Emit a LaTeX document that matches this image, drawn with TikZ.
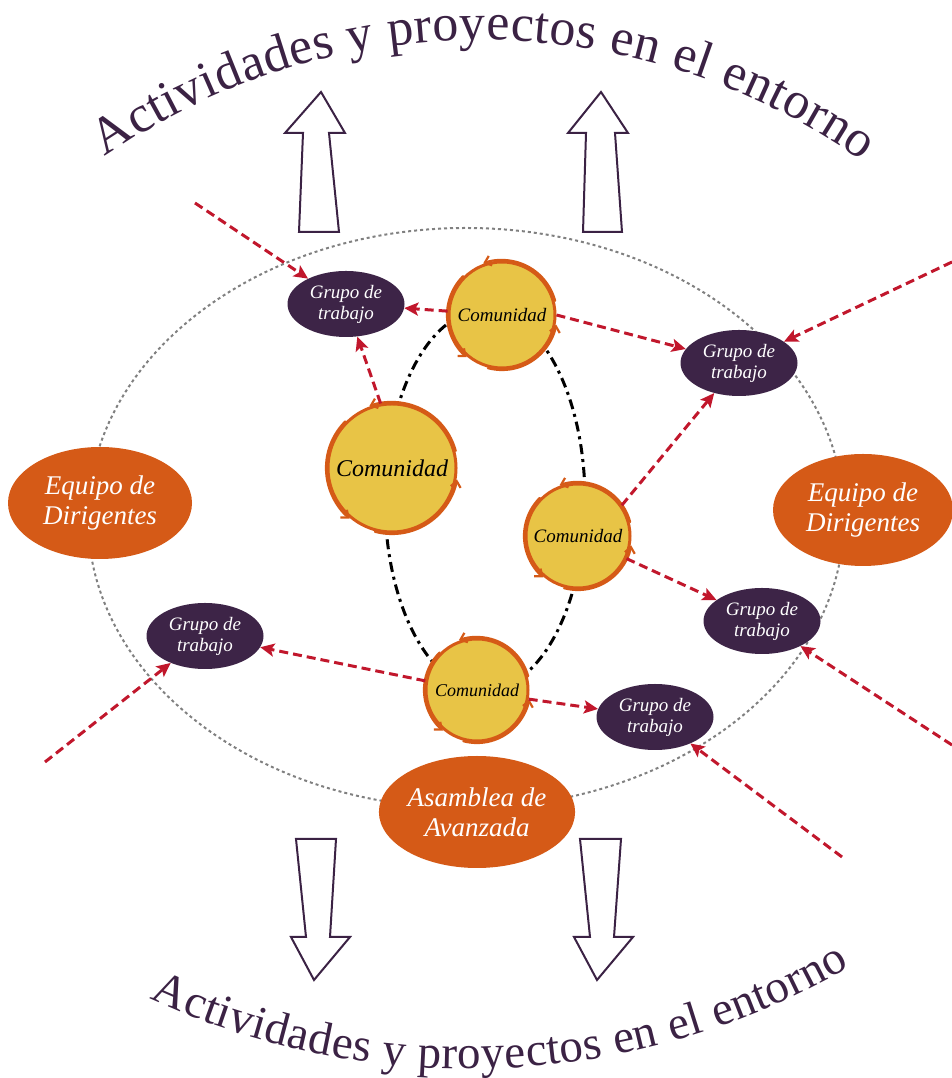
\documentclass[tikz,border=0pt]{standalone}
\usepackage{fontspec}
\setmainfont{Liberation Serif}
\usetikzlibrary{arrows.meta,shapes.geometric,decorations.text}
\definecolor{ink}{HTML}{3B2244}
\definecolor{plum}{HTML}{3D2447}
\definecolor{burnt}{HTML}{D55A17}
\definecolor{sun}{HTML}{E8C446}
\definecolor{crimson}{HTML}{C1172C}
\newcommand{\arcfont}{\fontsize{52}{60}\selectfont\color{ink}}
\newcommand{\arcfontsm}{\fontsize{47}{54}\selectfont\color{ink}}

\begin{document}
\begin{tikzpicture}[x=1pt,y=1pt,
  comunidad/.style={circle,fill=sun,draw=burnt,line width=3pt,inner sep=0pt,minimum size=#1,font=\itshape\fontsize{19}{19}\selectfont},
  grupo/.style={ellipse,fill=plum,text=white,minimum width=117pt,minimum height=66pt,inner sep=0pt,align=center,font=\itshape\fontsize{19}{21}\selectfont},
  equipo/.style={ellipse,fill=burnt,text=white,minimum width=184pt,minimum height=112pt,inner sep=0pt,align=center,font=\itshape\fontsize{27}{30}\selectfont},
  brush/.style={draw=burnt,line width=2.2pt,line cap=round,-{Straight Barb[length=6pt,width=10pt]}},
  flow/.style={crimson,line width=3pt,dash pattern=on 9pt off 5pt,-{Stealth[length=14pt,width=13pt,inset=3pt]}},
  hollow/.style={draw=ink,line width=2pt,fill=white,line join=miter}]
  \useasboundingbox (0,0) rectangle (952,1078);

  % Rings
  \draw[gray,line width=2pt,dash pattern=on 3pt off 3pt] (466,560) ellipse[x radius=378,y radius=290];
  \draw[black,line width=3pt,dash pattern=on 10pt off 5pt on 3pt off 5pt] (485,578) ellipse[x radius=100,y radius=190];

  % Block arrows
  \draw[hollow] (299,846) -- (303,945) -- (285,945) -- (321,986) -- (345,945) -- (329,945) -- (339,846) -- cycle;
  \draw[hollow] (583,846) -- (586,945) -- (568,945) -- (601,986) -- (628,945) -- (615,945) -- (622,846) -- cycle;
  \draw[hollow] (296,239) -- (306,141) -- (291,141) -- (314,98) -- (350,141) -- (330,141) -- (336,239) -- cycle;
  \draw[hollow] (580,239) -- (590,141) -- (574,141) -- (597,98) -- (633,141) -- (614,141) -- (621,239) -- cycle;

  % Curved titles
  \path[decorate,decoration={text along path,text={|\arcfont|Actividades y proyectos en el entorno},text align={fit to path}}]
    (481,376) ++(124.6:662) arc[start angle=124.6,end angle=54.9,radius=662];
  \path[decorate,decoration={text along path,text={|\arcfontsm|Actividades y proyectos en el entorno},text align={fit to path}}]
    (469,770) ++(245.2:761) arc[start angle=245.2,end angle=300,radius=761];

  % Comunidades
  \node[comunidad=106pt] (com1) at (502,763) {Comunidad};
  \node[comunidad=128pt,font=\itshape\fontsize{24}{24}\selectfont] (com2) at (392,610) {Comunidad};
  \node[comunidad=104pt] (com3) at (578,542) {Comunidad};
  \node[comunidad=102pt,font=\itshape\fontsize{18}{18}\selectfont] (com4) at (477,388) {Comunidad};
  \foreach \c/\r in {com1/55,com2/66,com3/54,com4/53}
    \foreach \a in {15,135,255}
      \draw[brush] (\c.center) ++(\a:\r) arc[start angle=\a,end angle=\a+95,radius=\r];

  % Grupos de trabajo
  \node[grupo] (g1) at (346,774) {Grupo de\\trabajo};
  \node[grupo] (g2) at (739,715) {Grupo de\\trabajo};
  \node[grupo] (g3) at (205,442) {Grupo de\\trabajo};
  \node[grupo] (g4) at (762,457) {Grupo de\\trabajo};
  \node[grupo] (g5) at (655,361) {Grupo de\\trabajo};

  % Equipos y asamblea
  \node[equipo] (eqL) at (100,575) {Equipo de\\Dirigentes};
  \node[equipo,minimum width=180pt] (eqR) at (863,568) {Equipo de\\Dirigentes};
  \node[equipo] (asam) at (477,266) {Asamblea de\\Avanzada};

  % Entradas desde fuera
  \coordinate (in1) at (195,875);
  \coordinate (in2) at (952,816);
  \coordinate (in3) at (45,316);
  \coordinate (in4) at (952,333);
  \coordinate (in5) at (842,221);

  % Flechas
  \draw[flow] (com1) -- (g1);
  \draw[flow] (com1.east) -- (g2);
  \draw[flow] (com2.100) -- (g1);
  \draw[flow] (com3.35) -- (g2);
  \draw[flow] (com3.-25) -- (g4);
  \draw[flow] (com4.170) -- (g3);
  \draw[flow] (com4.-10) -- (g5);
  \draw[flow] (in1) -- (g1);
  \draw[flow] (in2) -- (g2);
  \draw[flow] (in3) -- (g3);
  \draw[flow] (in4) -- (g4);
  \draw[flow] (in5) -- (g5);
\end{tikzpicture}
\end{document}
